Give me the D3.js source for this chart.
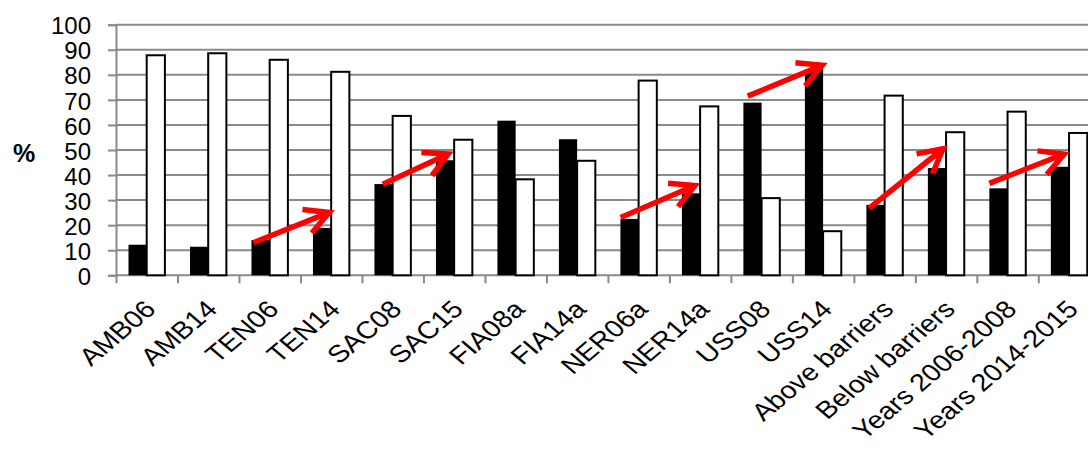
<!DOCTYPE html>
<html>
<head>
<meta charset="utf-8">
<script src="https://cdn.jsdelivr.net/npm/d3@7"></script>
<style>
  html, body { margin: 0; padding: 0; background: #fff; }
  svg { display: block; }
  text { font-family: "Liberation Sans", Arial, sans-serif; fill: #000; }
</style>
</head>
<body>
<svg id="chart" width="1088" height="449"></svg>
<script>
// ---- Data ----
const categories = ["AMB06", "AMB14", "TEN06", "TEN14", "SAC08", "SAC15", "FIA08a", "FIA14a",
  "NER06a", "NER14a", "USS08", "USS14", "Above barriers", "Below barriers",
  "Years 2006-2008", "Years 2014-2015"];
const blackValues = [12.2, 11.4, 14.1, 18.9, 36.4, 45.9, 61.7, 54.3, 22.5, 32.7, 68.9, 82.3, 28.1, 42.8, 34.7, 43.3];
const whiteValues = [87.8, 88.6, 86.0, 81.2, 63.6, 54.1, 38.3, 45.7, 77.7, 67.4, 30.8, 17.6, 71.7, 57.1, 65.3, 56.8];
const yTicks = [0, 10, 20, 30, 40, 50, 60, 70, 80, 90, 100];
const yLabel = "%";
// Arrow annotations in data space: category position (index units) and % value
const arrowFromPos = [2.233, 4.339, 8.207, 10.274, 12.247, 14.203];
const arrowFromVal = [13.0, 36.3, 23.1, 71.5, 26.7, 36.7];
const arrowToPos   = [3.469, 5.404, 9.416, 11.486, 13.451, 15.422];
const arrowToVal   = [25.1, 48.4, 35.8, 83.8, 50.5, 48.4];

// ---- Layout ----
const svg = d3.select("#chart");
const plotLeft = 116, plotTop = 24.7, plotBottom = 275.3;
const step = 61.49;
const plotRight = plotLeft + step * categories.length;

const x = d3.scaleBand().domain(categories).range([plotLeft, plotRight]).paddingInner(0).paddingOuter(0);
const xPos = d3.scaleLinear().domain([0, categories.length]).range([plotLeft, plotRight]);
const sub = d3.scaleBand().domain(["black", "white"]).range([12.5, 48.9]).padding(0);
const y = d3.scaleLinear().domain([0, 100]).range([plotBottom, plotTop]);

const gridColor = "#8a8a8a";

// gridlines + y tick labels
const yAxis = d3.axisLeft(y).tickValues(yTicks).tickSize(8).tickPadding(17).tickFormat(d3.format("d"));
const gy = svg.append("g").attr("transform", `translate(${plotLeft},0)`).call(yAxis);
gy.select(".domain").attr("stroke", gridColor).attr("stroke-width", 2);
gy.selectAll(".tick line").attr("stroke", gridColor).attr("stroke-width", 2);
gy.selectAll(".tick text").style("font-size", "24px").style("font-family", "'Liberation Sans', Arial, sans-serif").attr("fill", "#000").attr("dy", "0.38em");

svg.append("g").selectAll("line.grid").data(yTicks.filter(d => d > 0)).join("line")
  .attr("class", "grid")
  .attr("x1", plotLeft).attr("x2", 1088)
  .attr("y1", d => y(d)).attr("y2", d => y(d))
  .attr("stroke", gridColor).attr("stroke-width", 2);

// x axis
const xAxis = d3.axisBottom(xPos).tickValues(d3.range(0, categories.length + 1)).tickSize(8).tickFormat("");
const gx = svg.append("g").attr("transform", `translate(0,${plotBottom})`).call(xAxis);
gx.select(".domain").attr("stroke", gridColor).attr("stroke-width", 2).attr("d", `M${plotLeft},0H${plotRight}`);
gx.selectAll(".tick line").attr("stroke", gridColor).attr("stroke-width", 2);

// bars
const rows = categories.map((c, i) => ({ c, black: blackValues[i], white: whiteValues[i] }));
const g = svg.append("g");
g.selectAll("rect.black").data(rows).join("rect")
  .attr("class", "black")
  .attr("x", d => x(d.c) + sub("black"))
  .attr("width", sub.bandwidth())
  .attr("y", d => y(d.black))
  .attr("height", d => y(0) - y(d.black))
  .attr("fill", "#000");
g.selectAll("rect.white").data(rows).join("rect")
  .attr("class", "white")
  .attr("x", d => x(d.c) + sub("white"))
  .attr("width", sub.bandwidth())
  .attr("y", d => y(d.white))
  .attr("height", d => y(0) - y(d.white))
  .attr("fill", "#fff")
  .attr("stroke", "#000")
  .attr("stroke-width", 2);

// x labels (top-right corner of each label hangs at the category centre; slightly stretched like the source)
svg.append("g").selectAll("text.xl").data(categories).join("text")
  .attr("class", "xl")
  .attr("transform", d => `translate(${x(d) + x.bandwidth() / 2 - 4},${plotBottom + 23}) scale(1.18,1) rotate(-45)`)
  .attr("text-anchor", "end")
  .attr("dy", "0.72em")
  .style("font-size", "24.3px")
  .text(d => d);

// y label
svg.append("text")
  .attr("x", 24).attr("y", 162)
  .attr("text-anchor", "middle")
  .style("font-size", "25px").style("font-weight", "bold")
  .text(yLabel);

// arrows
const arrowG = svg.append("g");
const headLen = 27, headAng = 28 * Math.PI / 180;
arrowFromPos.forEach((p, i) => {
  const x0 = xPos(p), y0 = y(arrowFromVal[i]);
  const x1 = xPos(arrowToPos[i]), y1 = y(arrowToVal[i]);
  const a = Math.atan2(y1 - y0, x1 - x0);
  const back = a + Math.PI;
  const w1 = [x1 + headLen * Math.cos(back - headAng), y1 + headLen * Math.sin(back - headAng)];
  const w2 = [x1 + headLen * Math.cos(back + headAng), y1 + headLen * Math.sin(back + headAng)];
  arrowG.append("path")
    .attr("d", `M${x0},${y0}L${x1},${y1}M${w1[0]},${w1[1]}L${x1},${y1}L${w2[0]},${w2[1]}`)
    .attr("fill", "none")
    .attr("stroke", "#ff0000")
    .attr("stroke-width", 5.5)
    .attr("stroke-linejoin", "miter")
    .attr("stroke-linecap", "butt");
});
</script>
</body>
</html>
